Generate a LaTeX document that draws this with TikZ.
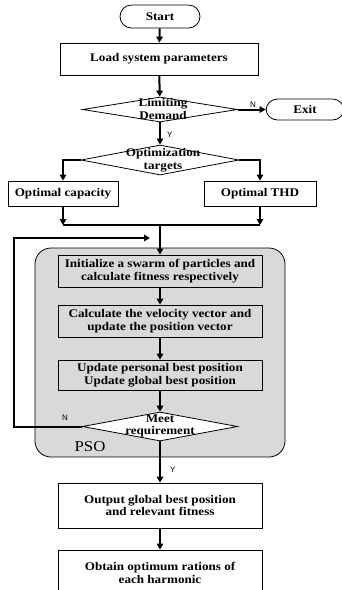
\documentclass[tikz,border=0pt]{standalone}
\usepackage{fontspec}
\setmainfont{Liberation Serif}[FakeStretch=1.12]
\newfontfamily\yesnofont{Liberation Sans}
\usetikzlibrary{shapes.geometric, arrows.meta}

\tikzset{
  >={Triangle[length=6pt, width=6.5pt]},
  box/.style={draw, line width=0.8pt, inner sep=0pt, align=center,
    font=\fontsize{11.7}{12.8}\selectfont\bfseries},
  term/.style={box, rounded corners=11.5pt},
  decision/.style={draw, diamond, line width=0.8pt, inner sep=0pt, fill=white},
  dtext/.style={align=center, inner sep=0pt,
    font=\fontsize{11.7}{12.8}\selectfont\bfseries},
  flow/.style={line width=2pt},
  yn/.style={font=\yesnofont\fontsize{8}{8}\selectfont, inner sep=1pt},
}

\begin{document}
\begin{tikzpicture}[x=1pt, y=-1pt]
    \useasboundingbox (0,0) rectangle (342,590);

    % PSO block
    \node[draw, line width=0.8pt, rounded corners=16pt, fill=gray!30,
      minimum width=250pt, minimum height=209pt] (pso) at (160, 352.5) {};
    \node[font=\fontsize{15}{15}\selectfont, inner sep=0pt] (psolabel) at (90, 447) {PSO};

    \node[term, minimum width=80pt, minimum height=23pt] (start) at (160, 16.5) {Start};
    \node[box, minimum width=198pt, minimum height=32pt] (load) at (159, 59) {Load system parameters};

    \node[decision, minimum width=155pt, minimum height=25pt] (lim) at (160, 109.5) {};
    \node[dtext] at (163, 109) {Limiting\\Demand};
    \node[term, minimum width=78pt, minimum height=21pt] (exit) at (305, 109.5) {Exit};

    \node[decision, minimum width=158pt, minimum height=30pt] (opt) at (160, 160) {};
    \node[dtext] at (163, 160) {Optimization\\targets};

    \node[box, minimum width=110pt, minimum height=25pt] (cap) at (63, 193.5) {Optimal capacity};
    \node[box, minimum width=112pt, minimum height=25pt] (thd) at (260, 193.5) {Optimal THD};

    \node[box, fill=gray!30, minimum width=204pt, minimum height=32pt] (init) at (160, 271)
      {Initialize a swarm of particles and\\calculate fitness respectively};
    \node[box, fill=gray!30, minimum width=204pt, minimum height=32pt] (calc) at (160, 321)
      {Calculate the velocity vector and\\update\ the position vector};
    \node[box, fill=gray!30, minimum width=204pt, minimum height=30pt] (upd) at (160, 375)
      {Update personal best position\\Update global best position};

    \node[decision, minimum width=155pt, minimum height=29pt] (meet) at (160, 426.5) {};
    \node[dtext] at (160, 426) {Meet\\requirement};

    \node[box, minimum width=204pt, minimum height=45pt] (out) at (160, 505.5)
      {Output global best position\\and relevant fitness};
    \node[box, minimum width=204pt, minimum height=46pt] (obt) at (160, 573)
      {Obtain optimum rations of\\each harmonic};

    \coordinate (jl) at (63, 225);
    \coordinate (jr) at (260, 225);
    \coordinate (jm) at (160, 225);
    \coordinate (lb) at (14, 426.5);
    \coordinate (lt) at (14, 238);
    \coordinate (la) at (150, 238);

    % Arrows
    \draw[->, flow] (start) -- (load);
    \draw[->, flow] (load) -- (lim);
    \draw[->, flow] (lim.east) -- (exit.west) node[yn, pos=0.55, above] {N};
    \draw[->, flow] (lim.south) -- (opt.north) node[yn, pos=0.55, right=5pt] {Y};
    \draw[->, flow] (opt.west) -| (cap.north);
    \draw[->, flow] (opt.east) -| (thd.north);
    \draw[->, flow] (cap.south) -- (jl);
    \draw[->, flow] (thd.south) -- (jr);
    \draw[flow] (jl) -- (jr);
    \draw[->, flow] (jm) -- (init.north);
    \draw[->, flow] (init) -- (calc);
    \draw[->, flow] (calc) -- (upd);
    \draw[->, flow] (upd) -- (meet);
    \draw[->, flow] (meet.west) -- (lb) -- (lt) -- (la);
    \node[yn] at (65, 418) {N};
    \draw[->, flow] (meet.south) -- (out.north) node[yn, pos=0.7, right=8pt] {Y};
    \draw[->, flow] (out) -- (obt);

\end{tikzpicture}
\end{document}
